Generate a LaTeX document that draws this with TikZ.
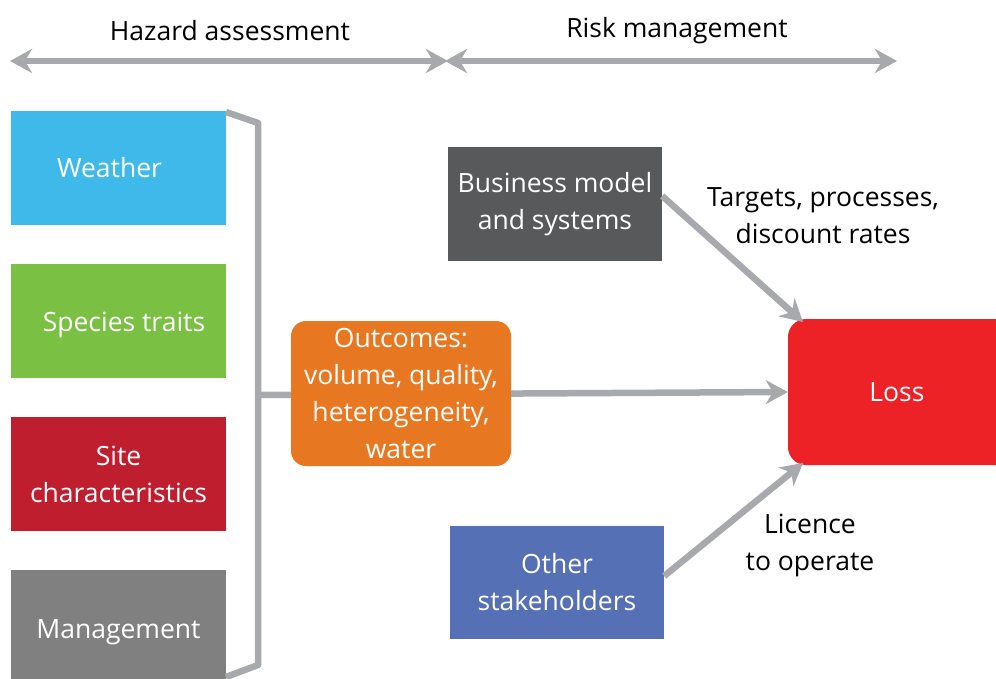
\documentclass[tikz,border=0pt]{standalone}
\usepackage{fontspec}
\setmainfont{Open Sans}
\usetikzlibrary{arrows.meta}
\definecolor{lgray}{HTML}{A7A9AC}
\definecolor{cweather}{HTML}{3FB9EA}
\definecolor{cspecies}{HTML}{7AC143}
\definecolor{csite}{HTML}{BE1E2D}
\definecolor{cmanag}{HTML}{808080}
\definecolor{cbiz}{HTML}{58595B}
\definecolor{cother}{HTML}{5670B5}
\definecolor{cout}{HTML}{E87722}
\definecolor{closs}{HTML}{ED2227}
\tikzset{
  box/.style={rectangle, inner sep=0pt, text=white, align=center, font=\fontsize{26.5}{37}\selectfont},
  wtxt/.style={inner sep=0pt, text=white, align=center, font=\fontsize{26.5}{37}\selectfont},
  lbl/.style={inner sep=0pt, align=center, font=\fontsize{26.5}{37}\selectfont},
  conn/.style={draw=lgray, line width=6.5pt},
  tip/.style={-{Stealth[length=22pt, width=24pt, inset=7pt]}},
  dtip/.style={{Stealth[length=22pt, width=24pt, inset=7pt]}-{Stealth[length=22pt, width=24pt, inset=7pt]}},
}
\begin{document}
\begin{tikzpicture}[x=1pt,y=-1pt]
\useasboundingbox (0,0) rectangle (996,679);
% top arrows
\coordinate (h1) at (10,61);
\coordinate (h2) at (448,61);
\coordinate (r1) at (445,61);
\coordinate (r2) at (897,61);
\draw[conn, dtip] (h1) -- (h2);
\draw[conn, dtip] (r1) -- (r2);
\node[lbl] (hz) at (230,31) {Hazard assessment};
\node[lbl] (rm) at (677,31) {Risk management};
% left boxes
\node[box, fill=cweather, minimum width=215pt, minimum height=114pt] (w) at (118.5,168) {\hspace*{-18pt}Weather};
\node[box, fill=cspecies, minimum width=215pt, minimum height=114pt] (s) at (118.5,321) {};
\node[wtxt] (st) at (124,325) {Species traits};
\node[box, fill=csite, minimum width=215pt, minimum height=114pt] (c) at (118.5,474) {Site\\characteristics};
\node[box, fill=cmanag, minimum width=215pt, minimum height=114pt] (m) at (118.5,627) {};
\node[wtxt] (mt) at (118.5,632) {Management};
% bracket
\coordinate (b1) at (226,112);
\coordinate (b2) at (258,123);
\coordinate (b3) at (258,395);
\coordinate (b4) at (258,665);
\coordinate (b5) at (226,677);
\draw[conn, line join=round] (b1) -- (b2) -- (b4) -- (b5);
% loss
\node[box, fill=closs, rounded corners=18pt, minimum width=230pt, minimum height=146pt] (loss) at (903,392) {\hspace*{-12pt}Loss};
% middle line
\draw[conn, tip] (b3) -- (loss.west);
\node[box, fill=cout, rounded corners=15pt, minimum width=220pt, minimum height=145pt] (out) at (401,393.5) {Outcomes:\\volume, quality,\\heterogeneity,\\water};
% business & others
\node[box, fill=cbiz, minimum width=214pt, minimum height=114pt] (biz) at (555,204) {Business model\\and systems};
\node[box, fill=cother, minimum width=214pt, minimum height=113pt] (oth) at (557,582) {Other\\stakeholders};
\coordinate (lt) at (803,322);
\coordinate (lb) at (803,463);
\draw[conn, tip] (biz.east) ++(0,-8) -- (lt);
\draw[conn, tip] (oth.east) ++(0,-6) -- (lb);
\node[lbl] (t1) at (823,216) {Targets, processes,\\discount rates};
\node[lbl] (t2) at (810,545) {Licence\\to operate};
\end{tikzpicture}
\end{document}
